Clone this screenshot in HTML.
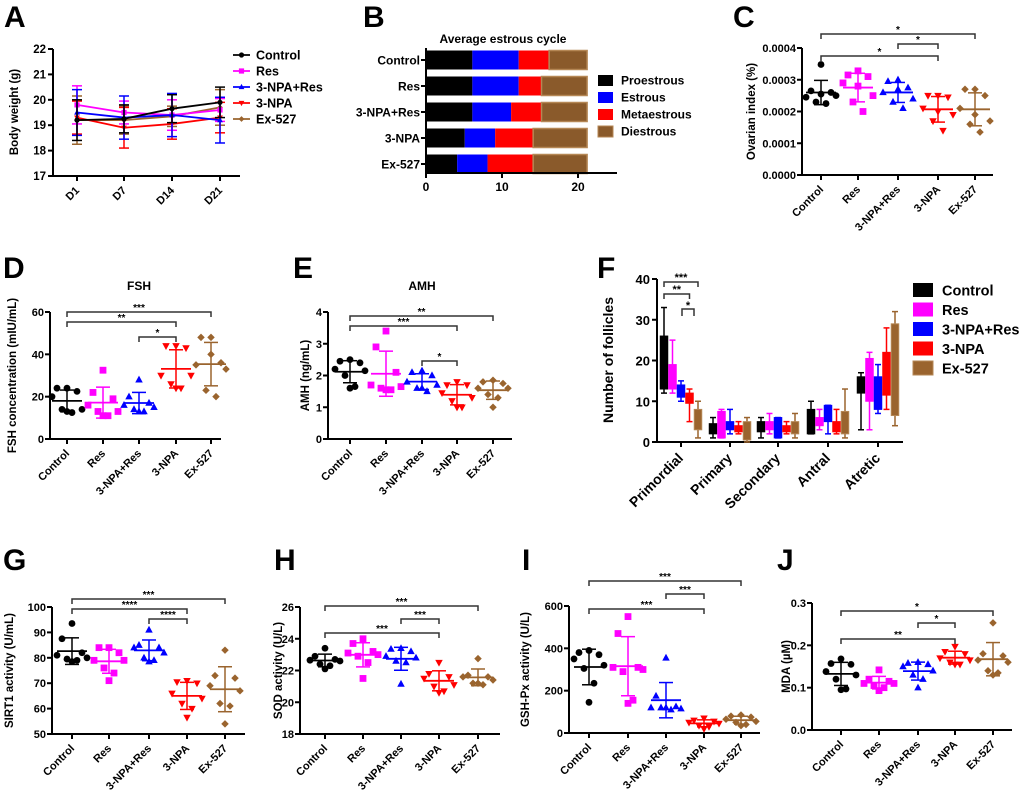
<!DOCTYPE html>
<html><head><meta charset="utf-8">
<style>
html,body{margin:0;padding:0;background:#fff;}
svg{display:block;font-family:"Liberation Sans",Arial,sans-serif;font-weight:bold;}
</style></head>
<body>
<svg id="fig" width="1020" height="792" viewBox="0 0 1020 792"></svg>
<script>
// ===== DATA =====
const groups = ["Control","Res","3-NPA+Res","3-NPA","Ex-527"];
const colors = ["#000000","#ff00ff","#0000ff","#ff0000","#9a642e"];
// Panel A
const days = ["D1","D7","D14","D21"];
const weightMean = [[19.2,19.25,19.65,19.9],[19.8,19.5,19.4,19.6],[19.5,19.3,19.4,19.2],[19.3,18.9,19.05,19.3],[19.2,19.2,19.35,19.7]];
const weightSD = [[0.8,0.55,0.55,0.6],[0.75,0.45,0.6,0.45],[0.9,0.85,0.85,0.9],[0.65,0.8,0.6,0.6],[0.95,0.55,0.4,0.7]];
const aTicks = [17,18,19,20,21,22];
// Panel B
const phases = ["Proestrous","Estrous","Metaestrous","Diestrous"];
const phaseColors = ["#000000","#0000ff","#ff0000","#8a5a2b"];
const cycleDays = [[6.1,6.1,4.0,5.0],[6.1,6.1,3.0,6.0],[6.1,5.1,4.0,6.0],[5.1,4.0,5.0,7.1],[4.1,4.0,6.0,7.1]];
const bTicks = [0,10,20];
// Panel C
const ovarianIdx = [[3.48,2.65,2.6,2.45,2.5,2.3,2.25,2.55],[3.28,3.15,3.1,2.9,2.5,2.3,2.0,2.8],[3.0,2.95,2.75,2.6,2.4,2.3,2.1,2.7],[2.5,2.5,2.45,2.1,1.9,1.7,1.4,2.0],[2.7,2.7,2.5,2.1,1.7,1.6,1.35,1.9]].map(a=>a.map(v=>v*1e-4));
const cTicks = [0,0.0001,0.0002,0.0003,0.0004];
const cTickLabels = ["0.0000","0.0001","0.0002","0.0003","0.0004"];
// Panel D
const fsh = [[24,24,22.5,20,14,14,12.5,13],[32.5,22,19,16,13,13,11,11],[28,20,17,16,15,14,13,13],[44,44,43,30,30,26,24,24],[48,48,36,35,33,23,20,40]];
const dTicks = [0,20,40,60];
// Panel E
const amh = [[2.5,2.45,2.4,2.2,2.15,2.0,1.65,1.6],[3.4,2.9,2.1,1.7,1.65,1.6,1.55,1.55],[2.15,2.1,2.0,1.8,1.7,1.6,1.5,1.6],[1.8,1.7,1.7,1.45,1.3,1.2,1.0,1.0],[1.85,1.8,1.75,1.6,1.6,1.4,1.3,1.0]];
const eTicks = [0,1,2,3,4];
// Panel F  (min,q1,q3,max)
const follicleTypes = ["Primordial","Primary","Secondary","Antral","Atretic"];
const follicleBoxes = [
 [[12,13,26,33],[12,13,19,25],[10,11,14,15],[5,9.5,12,13],[1,3,8,10]],
 [[1,2,4.5,6],[1,1,7.5,8],[2,3,5,8],[2,2.5,4,5],[0,0.5,5,6]],
 [[1,2.5,5,6],[2,3,5,7],[1,1,6,6],[2,2.5,4,5],[1,2,5,7]],
 [[2,2,8,10],[3,4,6,8],[2,5,9,9],[2,2.5,5,8],[1,2,7.5,13]],
 [[3,12,16,17],[3,10,20.5,22],[7,8,16,19],[8,11.5,22,28],[4,6.5,29,32]]];
const fTicks = [0,10,20,30,40];
// Panel G
const sirt1 = [[93.5,87.5,82,81,80,79.5,79,78.5],[84,84,82,79,79,76,74,71],[91,85,84,84,82,80,79,78.5],[71,70.5,70,66,64,62,60,56.5],[83,73,72,69,67,62,61,54]];
const gTicks = [50,60,70,80,90,100];
// Panel H
const sod = [[23.4,22.9,22.7,22.65,22.6,22.4,22.3,22.1],[24,23.7,23.2,23.1,23.0,22.9,22.5,21.5],[23.4,23.35,23.2,22.9,22.8,22.6,22.5,21.15],[22.5,21.8,21.6,21.5,21.1,21.0,20.7,20.6],[22.75,21.7,21.6,21.6,21.4,21.2,21.1,21.2]];
const hTicks = [18,20,22,24,26];
// Panel I
const gshpx = [[390,380,370,350,320,305,235,145],[550,470,310,310,300,290,155,140],[355,175,125,120,115,120,110,120],[70,60,55,50,45,35,30,20],[85,80,75,65,55,50,40,35]];
const iTicks = [0,200,400,600];
// Panel J
const mda = [[0.168,0.157,0.155,0.138,0.13,0.12,0.097,0.095],[0.142,0.12,0.115,0.11,0.11,0.105,0.1,0.093],[0.16,0.158,0.155,0.15,0.14,0.13,0.12,0.1],[0.197,0.185,0.18,0.17,0.165,0.16,0.155,0.155],[0.253,0.18,0.175,0.165,0.16,0.14,0.135,0.13]];
const jTicks = [0,0.1,0.2,0.3];
const jTickLabels = ["0.0","0.1","0.2","0.3"];

// ===== HELPERS =====
const NS="http://www.w3.org/2000/svg";
const svg=document.getElementById('fig');
function el(tag,attrs,parent){const e=document.createElementNS(NS,tag);for(const k in attrs)e.setAttribute(k,attrs[k]);(parent||svg).appendChild(e);return e;}
function nm(e,name){
 
 
 return e;}
function txt(x,y,s,size,anchor,parent,extra){const t=el('text',Object.assign({x:x,y:y,'font-size':size,'text-anchor':anchor||'middle'},extra||{}),parent);t.textContent=s;return t;}
function line(x1,y1,x2,y2,c,w,p){return el('line',{x1,y1,x2,y2,stroke:c||'#000','stroke-width':w||1.5},p);}
function marker(g,i,x,y,r,p){
 const c=colors[i];let m;
 if(i===0)m=el('circle',{cx:x,cy:y,r:r,fill:c},p);
 else if(i===1)m=el('rect',{x:x-r,y:y-r,width:2*r,height:2*r,fill:c},p);
 else if(i===2)m=el('polygon',{points:`${x},${y-r*1.2} ${x-r*1.1},${y+r*0.8} ${x+r*1.1},${y+r*0.8}`,fill:c},p);
 else if(i===3)m=el('polygon',{points:`${x},${y+r*1.2} ${x-r*1.1},${y-r*0.8} ${x+r*1.1},${y-r*0.8}`,fill:c},p);
 else m=el('polygon',{points:`${x},${y-r*1.1} ${x+r*1.1},${y} ${x},${y+r*1.1} ${x-r*1.1},${y}`,fill:c},p);
 return m;}
function panelLabel(s,x,y){const t=txt(x,y,s,30,'start');nm(t,'panel-label-'+s.toLowerCase());}
function yTitle(s,x,y,p){const t=txt(x,y,s,11.5,'middle',p,{transform:`rotate(-90 ${x} ${y})`});nm(t,'y-axis-title');return t;}
function rotLabel(s,x,y,p){const t=txt(x,y,s,11,'end',p,{transform:`rotate(-45 ${x} ${y})`});return t;}
const jit=[0,-10,10,-15,15,-5,5,0];

function scatterPanel(cfg){
 const g=el('g',{});nm(g,cfg.name);
 const yS=v=>cfg.yBot-(v-cfg.vmin)/(cfg.vmax-cfg.vmin)*(cfg.yBot-cfg.yTop);
 const ax=el('path',{d:`M${cfg.ax},${cfg.yTop} V${cfg.yBot} H${cfg.xEnd}`,fill:'none',stroke:'#000','stroke-width':2},g);nm(ax,'axes');
 cfg.ticks.forEach((t,k)=>{const y=yS(t);line(cfg.ax-5,y,cfg.ax,y,'#000',2,g);const l=txt(cfg.ax-6,y+4,cfg.tickLabels?cfg.tickLabels[k]:String(t),11,'end',g);nm(l,'y-tick-label');});
 cfg.xs.forEach((x,i)=>{line(x,cfg.yBot,x,cfg.yBot+5,'#000',2,g);const l=rotLabel(groups[i],x+3,cfg.yBot+15,g);nm(l,'x-tick-label');});
 yTitle(cfg.ylabel,cfg.ylx,(cfg.yTop+cfg.yBot)/2,g);
 if(cfg.title){const t=txt(cfg.xs[2],cfg.titleY,cfg.title,12,'middle',g);nm(t,'chart-title');}
 cfg.data.forEach((pts,i)=>{
  const gg=el('g',{},g);nm(gg,'group-'+groups[i].toLowerCase());
  const n=pts.length,mean=pts.reduce((a,b)=>a+b,0)/n;
  const sd=Math.sqrt(pts.reduce((a,b)=>a+(b-mean)*(b-mean),0)/(n-1));
  const x=cfg.xs[i];
  pts.forEach((v,k)=>{const m=marker(gg,i,x+jit[k],yS(v),3.4,gg);nm(m,'data-point');});
  const c=colors[i];
  nm(line(x-15,yS(mean),x+15,yS(mean),c,1.8,gg),'mean-line');
  nm(line(x,yS(mean-sd),x,yS(mean+sd),c,1.5,gg),'sd-bar');
  nm(line(x-7,yS(mean+sd),x+7,yS(mean+sd),c,1.5,gg),'sd-cap');
  nm(line(x-7,yS(mean-sd),x+7,yS(mean-sd),c,1.5,gg),'sd-cap');
 });
 cfg.sigs.forEach(s=>{const x1=cfg.xs[s[0]],x2=cfg.xs[s[1]],y=s[2];
  const p=el('path',{d:`M${x1},${y+5} V${y} H${x2} V${y+5}`,fill:'none',stroke:'#333','stroke-width':1.5},g);nm(p,'significance-bracket');
  const t=txt((x1+x2)/2,y-1,s[3],10,'middle',g);nm(t,'significance-stars');});
}

// ===== PANEL A =====
(function(){
 const g=el('g',{});nm(g,'body-weight-chart');
 const ax0=53,yTop=49,yBot=176,xEnd=240,xs=[77,124,172,220];
 const yS=v=>yBot-(v-17)/5*(yBot-yTop);
 nm(el('path',{d:`M${ax0},${yTop} V${yBot} H${xEnd}`,fill:'none',stroke:'#000','stroke-width':2},g),'axes');
 aTicks.forEach(t=>{line(ax0-5,yS(t),ax0,yS(t),'#000',2,g);nm(txt(ax0-7,yS(t)+4,String(t),11.5,'end',g),'y-tick-label');});
 days.forEach((d,i)=>{line(xs[i],yBot,xs[i],yBot+5,'#000',2,g);nm(rotLabel(d,xs[i]+3,yBot+15,g),'x-tick-label');});
 yTitle('Body weight (g)',18,112,g);
 const order=[4,3,1,2,0];
 order.forEach(i=>{
  const sg=el('g',{},g);nm(sg,'series-'+groups[i].toLowerCase());
  const c=colors[i];
  weightMean[i].forEach((m,k)=>{const x=xs[k];
   nm(line(x,yS(m-weightSD[i][k]),x,yS(m+weightSD[i][k]),c,1.5,sg),'error-bar');
   line(x-5,yS(m-weightSD[i][k]),x+5,yS(m-weightSD[i][k]),c,1.5,sg);
   line(x-5,yS(m+weightSD[i][k]),x+5,yS(m+weightSD[i][k]),c,1.5,sg);});
  nm(el('polyline',{points:weightMean[i].map((m,k)=>xs[k]+','+yS(m)).join(' '),fill:'none',stroke:c,'stroke-width':1.8},sg),'series-line');
  weightMean[i].forEach((m,k)=>nm(marker(sg,i,xs[k],yS(m),2.6,sg),'data-point'));
 });
 groups.forEach((s,i)=>{const y=55+i*16;const lg=el('g',{},g);nm(lg,'legend-entry');
  line(233,y,250,y,colors[i],1.8,lg);marker(lg,i,241.5,y,2.6,lg);txt(256,y+4.5,s,12.5,'start',lg);});
})();

// ===== PANEL B =====
(function(){
 const g=el('g',{});nm(g,'estrous-cycle-chart');
 const x0=426,sc=7.6,rows=[60,86,112,138,164],h=19;
 nm(txt(503,43,'Average estrous cycle',12,'middle',g),'chart-title');
 cycleDays.forEach((r,i)=>{let acc=0;
  r.forEach((v,k)=>{const rc=el('rect',{x:x0+acc*sc,y:rows[i]-h/2,width:v*sc,height:h,fill:phaseColors[k],stroke:k===3?'#b58755':'none','stroke-width':k===3?1.5:0},g);nm(rc,'bar-'+groups[i].toLowerCase()+'-'+phases[k].toLowerCase());acc+=v;});
  line(x0-5,rows[i],x0,rows[i],'#000',2,g);
  nm(txt(x0-6,rows[i]+4.5,groups[i],12,'end',g),'y-tick-label');});
 nm(el('path',{d:`M${x0},48 V173 H617`,fill:'none',stroke:'#000','stroke-width':2},g),'axes');
 bTicks.forEach(t=>{line(x0+t*sc,173,x0+t*sc,178,'#000',2,g);nm(txt(x0+t*sc,191,String(t),12,'middle',g),'x-tick-label');});
 phases.forEach((p,k)=>{const y=80+k*17;const lg=el('g',{},g);nm(lg,'legend-entry');
  el('rect',{x:598,y:y-5,width:15,height:11,fill:phaseColors[k],stroke:k===3?'#b58755':'none'},lg);txt(621,y+4.5,p,12,'start',lg);});
})();

// ===== SCATTER PANELS =====
scatterPanel({name:'ovarian-index-chart',ax:802,yTop:48,yBot:175,xEnd:993,vmin:0,vmax:0.0004,ticks:cTicks,tickLabels:cTickLabels,xs:[821,858,898,938,975],data:ovarianIdx,ylabel:'Ovarian index (%)',ylx:755,sigs:[[0,4,34,'*'],[2,3,44,'*'],[0,3,56,'*']]});
scatterPanel({name:'fsh-chart',ax:50,yTop:312,yBot:439,xEnd:221,vmin:0,vmax:60,ticks:dTicks,xs:[67,103,139,176,211],data:fsh,ylabel:'FSH concentration (mIU/mL)',ylx:16,title:'FSH',titleY:290,sigs:[[0,4,312,'***'],[0,3,322,'**'],[2,3,337,'*']]});
scatterPanel({name:'amh-chart',ax:328,yTop:312,yBot:439,xEnd:512,vmin:0,vmax:4,ticks:eTicks,xs:[350,386,422,457,493],data:amh,ylabel:'AMH (ng/mL)',ylx:309,title:'AMH',titleY:290,sigs:[[0,4,316,'**'],[0,3,326,'***'],[2,3,361,'*']]});
scatterPanel({name:'sirt1-chart',ax:52,yTop:607,yBot:734,xEnd:245,vmin:50,vmax:100,ticks:gTicks,xs:[72,109,149,187,225],data:sirt1,ylabel:'SIRT1 activity (U/mL)',ylx:13,sigs:[[0,4,599,'***'],[0,3,609,'****'],[2,3,619,'****']]});
scatterPanel({name:'sod-chart',ax:300,yTop:607,yBot:734,xEnd:500,vmin:18,vmax:26,ticks:hTicks,xs:[325,363,401,439,478],data:sod,ylabel:'SOD activity (U/L)',ylx:282,sigs:[[0,4,606,'***'],[2,3,619,'***'],[0,3,633,'***']]});
scatterPanel({name:'gsh-px-chart',ax:569,yTop:606,yBot:733,xEnd:760,vmin:0,vmax:600,ticks:iTicks,xs:[589,628,666,704,741],data:gshpx,ylabel:'GSH-Px activity (U/L)',ylx:529,sigs:[[0,4,581,'***'],[2,3,594,'***'],[0,3,609,'***']]});
scatterPanel({name:'mda-chart',ax:812,yTop:603,yBot:730,xEnd:1012,vmin:0,vmax:0.3,ticks:jTicks,tickLabels:jTickLabels,xs:[841,879,918,955,993],data:mda,ylabel:'MDA (\u00b5M)',ylx:790,sigs:[[0,4,611,'*'],[2,3,623,'*'],[0,3,639,'**']]});

// ===== PANEL F =====
(function(){
 const g=el('g',{});nm(g,'follicle-boxplot-chart');
 const ax0=657,yTop=279,yBot=442,xEnd=903,centers=[681,730,778,828,878],off=[-17,-8.5,0,8.5,17],bw=7.5;
 const yS=v=>yBot-v/40*(yBot-yTop);
 nm(el('path',{d:`M${ax0},${yTop} V${yBot} H${xEnd}`,fill:'none',stroke:'#000','stroke-width':2},g),'axes');
 fTicks.forEach(t=>{line(ax0-5,yS(t),ax0,yS(t),'#000',2,g);nm(txt(ax0-7,yS(t)+5,String(t),13,'end',g),'y-tick-label');});
 follicleTypes.forEach((f,k)=>{line(centers[k],yBot,centers[k],yBot+5,'#000',2,g);nm(txt(centers[k]+3,yBot+17,f,14,'end',g,{transform:`rotate(-45 ${centers[k]+3} ${yBot+17})`}),'x-tick-label');});
 const t=txt(613,360,'Number of follicles',14,'middle',g,{transform:'rotate(-90 613 360)'});nm(t,'y-axis-title');
 follicleBoxes.forEach((grp,k)=>grp.forEach((b,i)=>{
  const x=centers[k]+off[i],c=colors[i];const bg=el('g',{},g);nm(bg,'box-'+follicleTypes[k].toLowerCase()+'-'+groups[i].toLowerCase());
  line(x,yS(b[0]),x,yS(b[3]),c,1.5,bg);line(x-3,yS(b[0]),x+3,yS(b[0]),c,1.5,bg);line(x-3,yS(b[3]),x+3,yS(b[3]),c,1.5,bg);
  el('rect',{x:x-bw/2,y:yS(b[2]),width:bw,height:Math.max(1,yS(b[1])-yS(b[2])),fill:c,stroke:i===4?'#b58755':c,'stroke-width':1},bg);}));
 [[0,4,282,'***'],[0,3,294,'**']].forEach(s=>{const x1=centers[0]+off[s[0]],x2=centers[0]+off[s[1]];
  nm(el('path',{d:`M${x1},${s[2]+5} V${s[2]} H${x2} V${s[2]+5}`,fill:'none',stroke:'#333','stroke-width':1.5},g),'significance-bracket');
  nm(txt((x1+x2)/2,s[2]-1,s[3],11,'middle',g),'significance-stars');});
 nm(el('path',{d:`M682,316 V309 H694 V316`,fill:'none',stroke:'#333','stroke-width':1.5},g),'significance-bracket');
 nm(txt(688,309,'*',11,'middle',g),'significance-stars');
 groups.forEach((s,i)=>{const y=290+i*19.5;const lg=el('g',{},g);nm(lg,'legend-entry');
  el('rect',{x:913,y:y-7,width:20,height:14,fill:colors[i],stroke:i===4?'#b58755':'none'},lg);txt(942,y+5.5,s,14.5,'start',lg);});
})();

panelLabel('A',4,27);panelLabel('B',363,27);panelLabel('C',733,27);
panelLabel('D',3,278);panelLabel('E',293,278);panelLabel('F',597,278);
panelLabel('G',3,570);panelLabel('H',274,570);panelLabel('I',522,570);panelLabel('J',777,570);
</script>
</body></html>
